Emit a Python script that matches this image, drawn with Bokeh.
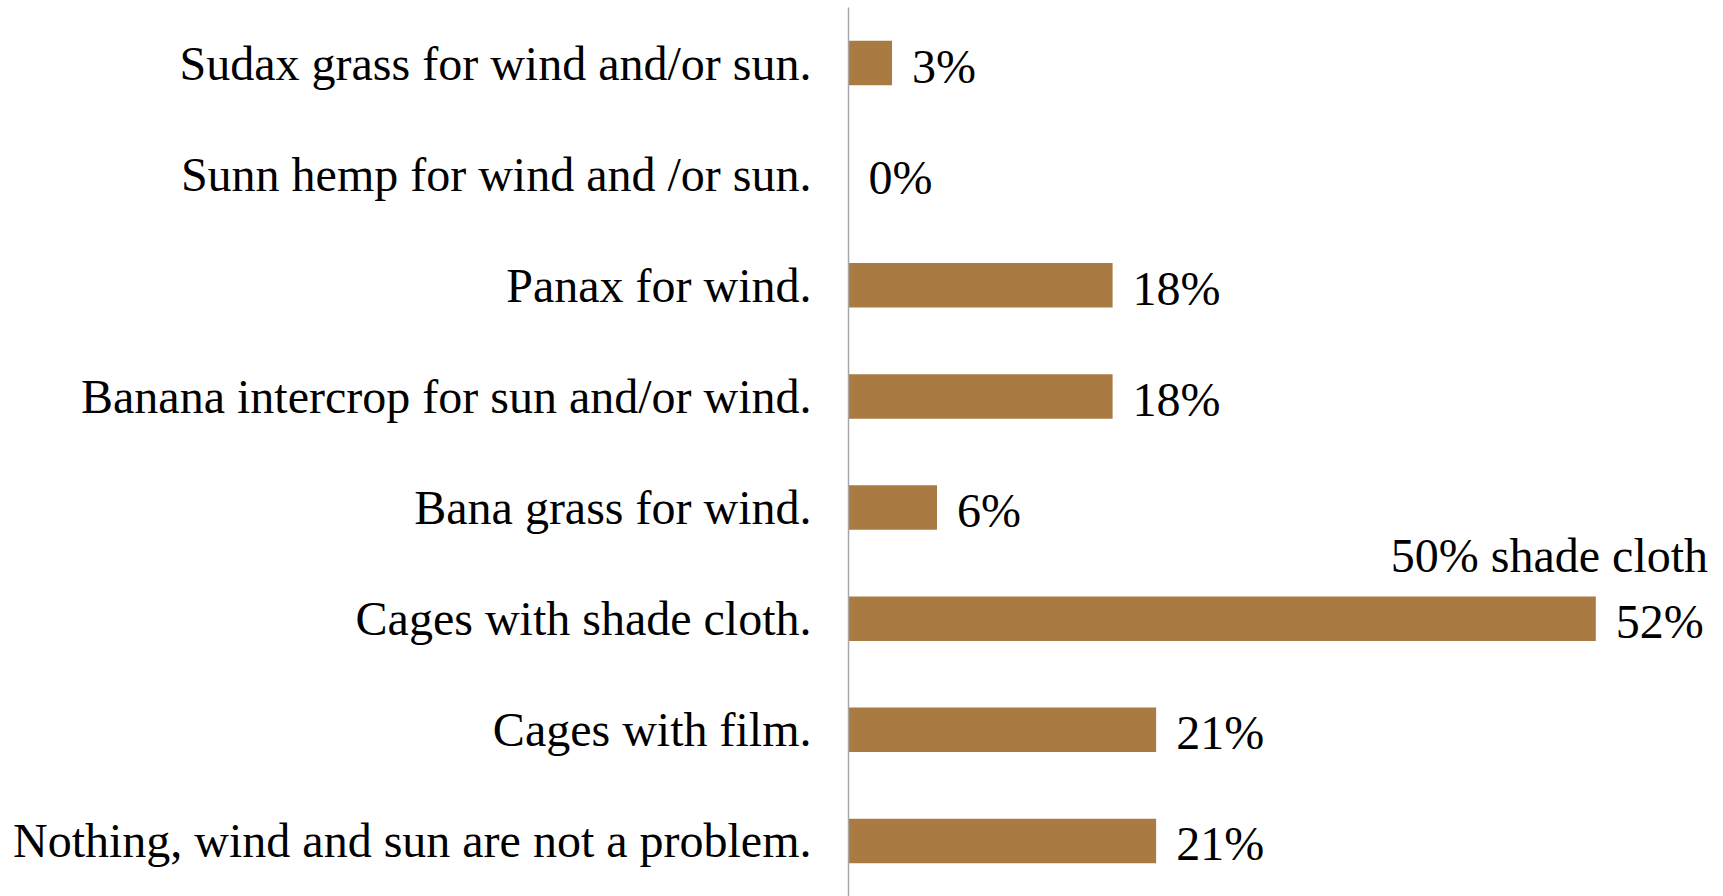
from bokeh.plotting import figure
from bokeh.models import ColumnDataSource, FactorRange, Range1d
from bokeh.core.properties import value
from bokeh.embed import file_html
from bokeh.resources import INLINE

categories = [
    "Sudax grass for wind and/or sun.",
    "Sunn hemp for wind and /or sun.",
    "Panax for wind.",
    "Banana intercrop for sun and/or wind.",
    "Bana grass for wind.",
    "Cages with shade cloth.",
    "Cages with film.",
    "Nothing, wind and sun are not a problem.",
]
values = [3.0, 0.0, 18.2, 18.2, 6.1, 51.5, 21.2, 21.2]
value_labels = ["3%", "0%", "18%", "18%", "6%", "52%", "21%", "21%"]

note_category = ["Cages with shade cloth."]
note_value = [51.5]
note_text = ["50% shade cloth"]

FONT = "'Liberation Serif', 'Times New Roman', serif"
SIZE = "48px"
BAR = "#A97B42"

src = ColumnDataSource(dict(cat=categories, val=values, lab=value_labels))
note_src = ColumnDataSource(dict(cat=note_category, val=note_value, txt=note_text))

p = figure(
    width=1723, height=896,
    y_range=FactorRange(factors=categories[::-1], range_padding=0),
    x_range=Range1d(0, 60.3),
    output_backend="svg", toolbar_location=None,
    x_axis_location=None,
    min_border_left=848, min_border_right=0,
    min_border_top=7, min_border_bottom=0,
)
p.background_fill_color = "white"
p.border_fill_color = "white"
p.outline_line_color = None
p.xgrid.visible = False
p.ygrid.visible = False

p.hbar(y="cat", right="val", left=0, height=0.4, source=src,
       fill_color=BAR, line_color=None)

p.text(x="val", y="cat", text="lab", source=src,
       x_offset=20, y_offset=3,
       text_align="left", text_baseline="alphabetic",
       text_font=value(FONT), text_font_size=SIZE, text_color="black")

p.text(x="val", y="cat", text="txt", source=note_src,
       x_offset=-205, y_offset=-63,
       text_align="left", text_baseline="alphabetic",
       text_font=value(FONT), text_font_size=SIZE, text_color="black")

ax = p.yaxis[0]
ax.axis_line_color = "#a6a6a6"
ax.axis_line_width = 1.5
ax.major_tick_line_color = None
ax.minor_tick_line_color = None
ax.major_tick_out = 0
ax.major_tick_in = 0
ax.major_label_standoff = 37
ax.major_label_text_font = FONT
ax.major_label_text_font_size = SIZE
ax.major_label_text_color = "black"

open("out.html", "w").write(file_html(p, INLINE))
